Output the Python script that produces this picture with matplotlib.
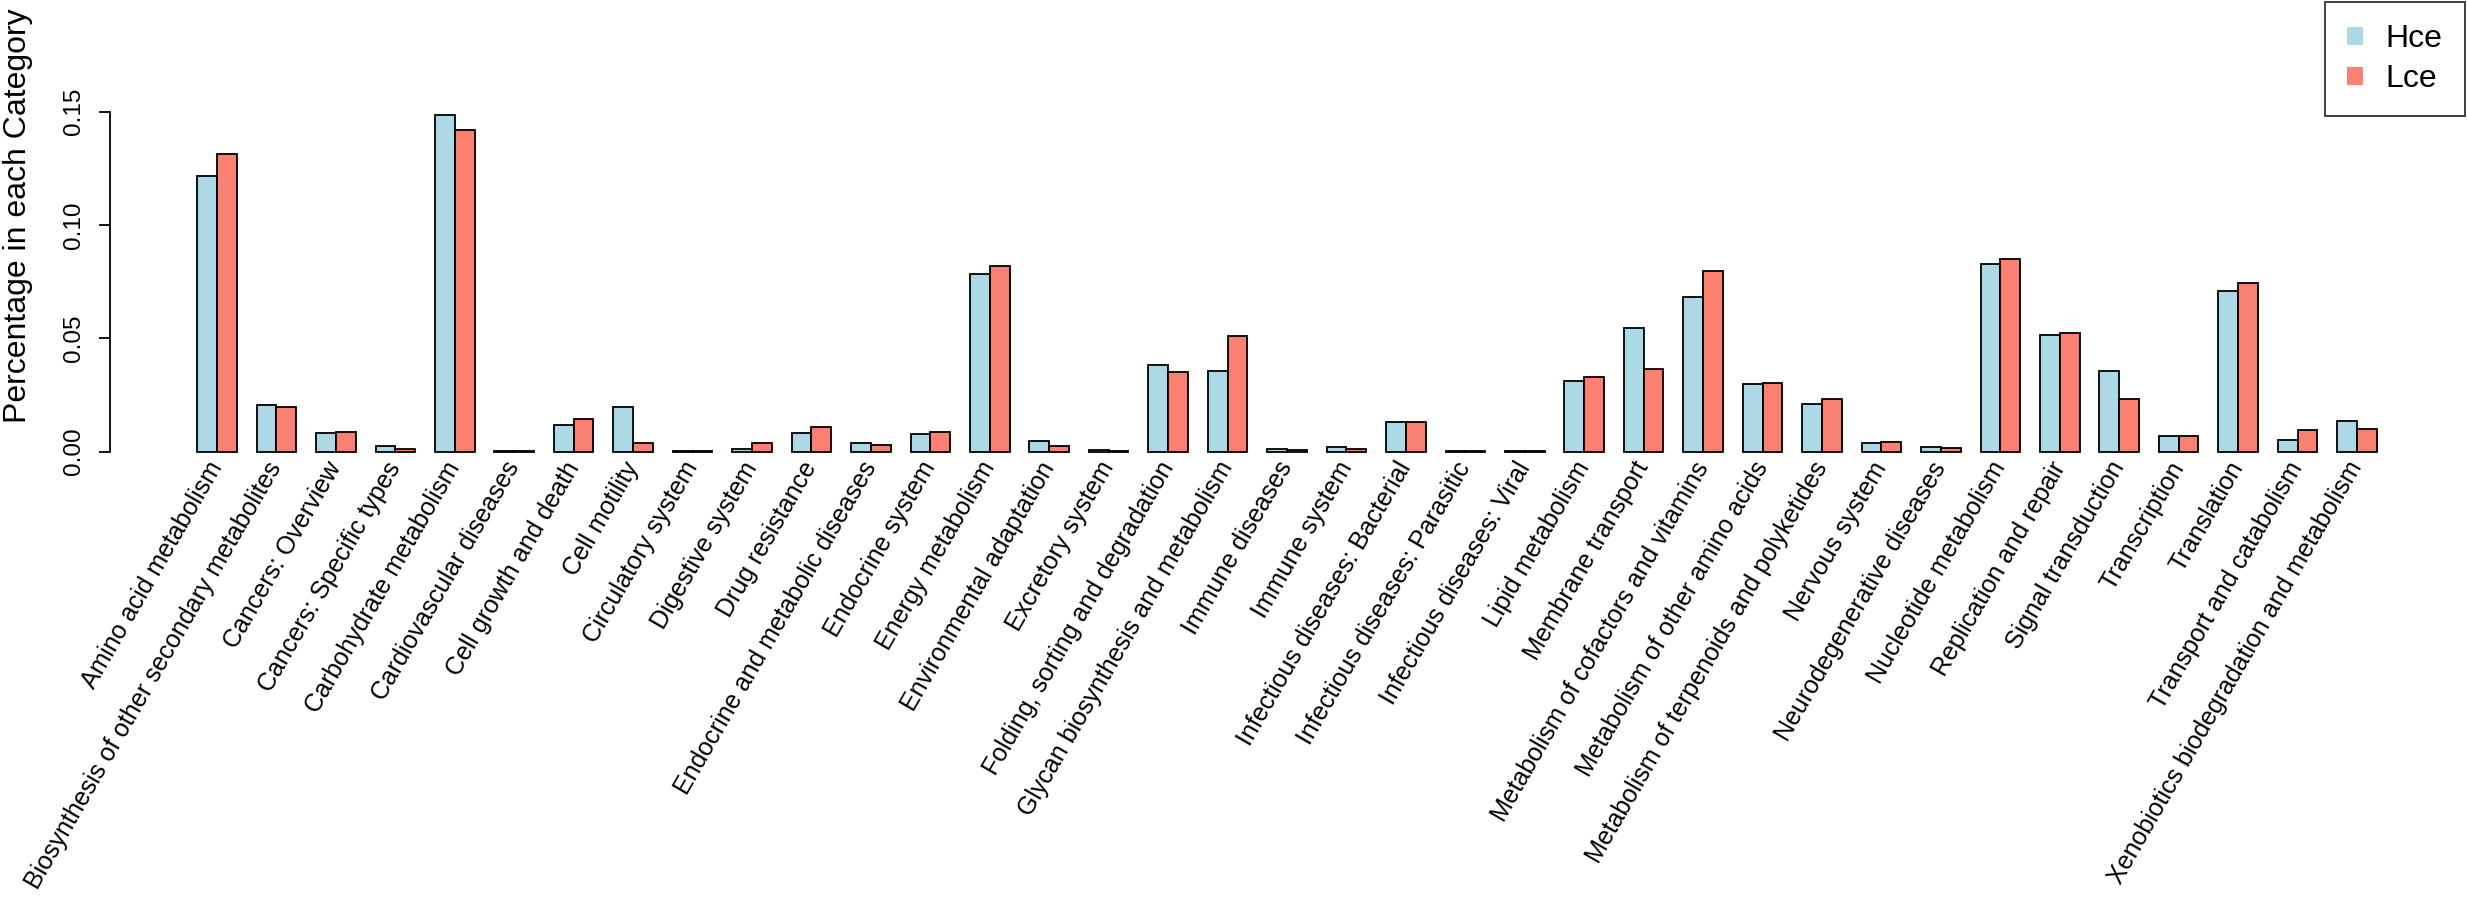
import numpy as np
import matplotlib
matplotlib.use("Agg")
import matplotlib.pyplot as plt
from matplotlib.patches import Patch

plt.rcParams['font.family'] = ['Liberation Sans', 'DejaVu Sans']

# KEGG level-2 categories
categories = [
    "Amino acid metabolism",
    "Biosynthesis of other secondary metabolites",
    "Cancers: Overview",
    "Cancers: Specific types",
    "Carbohydrate metabolism",
    "Cardiovascular diseases",
    "Cell growth and death",
    "Cell motility",
    "Circulatory system",
    "Digestive system",
    "Drug resistance",
    "Endocrine and metabolic diseases",
    "Endocrine system",
    "Energy metabolism",
    "Environmental adaptation",
    "Excretory system",
    "Folding, sorting and degradation",
    "Glycan biosynthesis and metabolism",
    "Immune diseases",
    "Immune system",
    "Infectious diseases: Bacterial",
    "Infectious diseases: Parasitic",
    "Infectious diseases: Viral",
    "Lipid metabolism",
    "Membrane transport",
    "Metabolism of cofactors and vitamins",
    "Metabolism of other amino acids",
    "Metabolism of terpenoids and polyketides",
    "Nervous system",
    "Neurodegenerative diseases",
    "Nucleotide metabolism",
    "Replication and repair",
    "Signal transduction",
    "Transcription",
    "Translation",
    "Transport and catabolism",
    "Xenobiotics biodegradation and metabolism",
]

hce = [0.1215, 0.0207, 0.0082, 0.0023, 0.1483, 0.0002, 0.0117, 0.0196, 0.0003,
       0.0013, 0.0082, 0.0039, 0.0079, 0.0783, 0.0045, 0.0005, 0.0382, 0.0355,
       0.0012, 0.0020, 0.0132, 0.0002, 0.0002, 0.0311, 0.0546, 0.0682, 0.0298,
       0.0208, 0.0036, 0.0020, 0.0826, 0.0515, 0.0354, 0.0067, 0.0708, 0.0052,
       0.0134]
lce = [0.1312, 0.0196, 0.0086, 0.0013, 0.1420, 0.0002, 0.0143, 0.0037, 0.0002,
       0.0037, 0.0108, 0.0029, 0.0088, 0.0817, 0.0026, 0.0003, 0.0349, 0.0511,
       0.0009, 0.0013, 0.0132, 0.0001, 0.0001, 0.0330, 0.0363, 0.0798, 0.0302,
       0.0232, 0.0042, 0.0015, 0.0850, 0.0524, 0.0230, 0.0070, 0.0743, 0.0095,
       0.0100]

group_names = ["Hce", "Lce"]
group_colors = ["lightblue", "salmon"]
y_ticks = [0.00, 0.05, 0.10, 0.15]


def plot_barplot(categories, hce, lce):
    """
    Side-by-side barplot in the style of R's barplot(beside=TRUE).
    """
    W, H = 2467, 899
    fig = plt.figure(figsize=(W / 100, H / 100), dpi=100)
    ax = fig.add_axes([110 / W, 1 - 465 / H, (2464 - 110) / W, (465 - 102) / H])

    n = len(categories)
    # each group: two bars of width 1 followed by a gap of 1
    left = 1 + 3 * np.arange(n)
    ax.bar(left, hce, width=1, align='edge', color=group_colors[0],
           edgecolor='black', linewidth=1.3)
    ax.bar(left + 1, lce, width=1, align='edge', color=group_colors[1],
           edgecolor='black', linewidth=1.3)

    ax.set_xlim(1 - 4.4, 3 * n + 4.4)
    top = max(max(hce), max(lce))
    ax.set_ylim(-0.04 * top, 1.04 * top)

    for side in ['top', 'right', 'bottom']:
        ax.spines[side].set_visible(False)
    ax.spines['left'].set_bounds(0, 0.15)
    ax.spines['left'].set_linewidth(1.3)
    ax.set_xticks([])
    ax.set_yticks(y_ticks)
    ax.set_yticklabels([f"{t:.2f}" for t in y_ticks], rotation=90, va='center')
    ax.tick_params(axis='y', length=8, width=1.3, pad=10, labelsize=17.5)

    # rotated category labels under each group (srt=60, adj=1 in R terms)
    for x, name in zip(left + 1, categories):
        ax.text(x + 0.3, -0.0068, name, rotation=60, rotation_mode='anchor',
                ha='right', va='baseline', fontsize=18, clip_on=False)

    fig.text(18 / W, 1 - 216 / H, "Percentage in each Category", rotation=90,
             ha='center', va='center', fontsize=23)

    handles = [Patch(facecolor=c, edgecolor='none') for c in group_colors]
    leg = fig.legend(handles, group_names, loc='upper right',
                     bbox_to_anchor=(2465 / W, 1 - 2 / H), fontsize=23,
                     frameon=True, fancybox=False, handlelength=0.5,
                     handleheight=0.5, handletextpad=0.7, labelspacing=0.3,
                     borderpad=0.7, borderaxespad=0)
    leg.get_frame().set_edgecolor('black')
    leg.get_frame().set_linewidth(1.3)

    fig.savefig("out.png", dpi=100)
    plt.close(fig)


if __name__ == "__main__":
    plot_barplot(categories, hce, lce)
